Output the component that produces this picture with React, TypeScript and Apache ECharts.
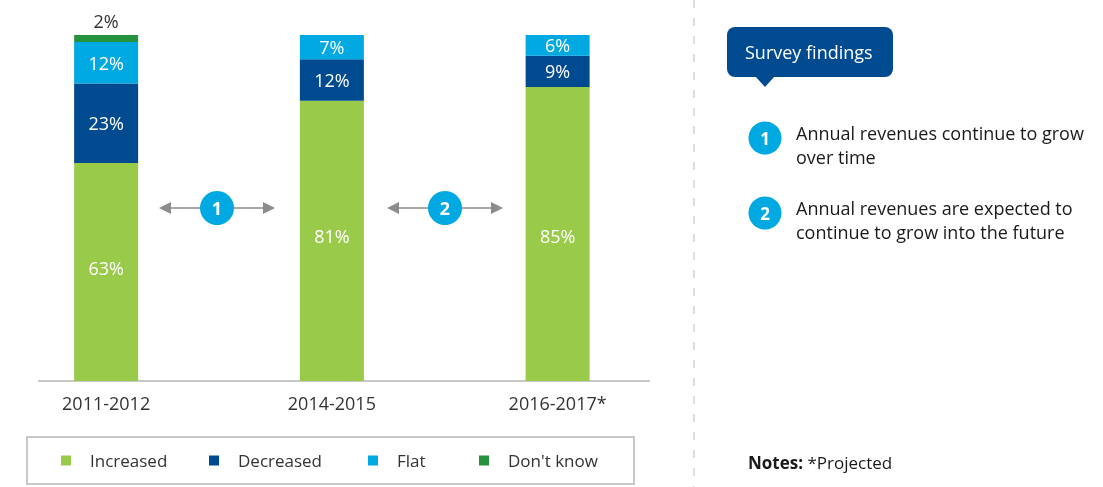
import React, { useEffect, useRef } from "react";
import * as echarts from "echarts";

const categories = ["2011-2012", "2014-2015", "2016-2017*"];
const increased = [63, 81, 85];
const decreased = [23, 12, 9];
const flat = [12, 7, 6];
const dontKnow = [2, 0, 0];
const seriesNames = ["Increased", "Decreased", "Flat", "Don't know"];
const findings = [
  "Annual revenues continue to grow\nover time",
  "Annual revenues are expected to\ncontinue to grow into the future",
];

const FONT = "'Open Sans', 'Noto Sans', sans-serif";
const GREEN = "#9aca4a";
const DARK_BLUE = "#004b8f";
const LIGHT_BLUE = "#00a9e2";
const DARK_GREEN = "#26913f";
const TEXT = "#333333";
const SHIFT = 20; // the chart div starts SHIFT px left of the page
const increasedLabelOffsets = [-4, -5, 2];

export default function App() {
  const ref = useRef<HTMLDivElement>(null);
  useEffect(() => {
    if (!ref.current) return;
    const chart = echarts.init(ref.current, undefined, { renderer: "svg" });
    const fmt = (p: any) => (p.value > 0 ? p.value + "%" : "");
    const inLabel = {
      show: true,
      position: "inside",
      color: "#ffffff",
      fontSize: 18,
      fontFamily: FONT,
      formatter: fmt,
    };
    const legendLefts = [61, 209, 368, 479];
    const colors = [GREEN, DARK_BLUE, LIGHT_BLUE, DARK_GREEN];
    const arrow = (x1: number, x2: number, cx: number, num: string) => [
      { type: "line", shape: { x1: x1 + 8, y1: 208, x2: x2 - 8, y2: 208 }, style: { stroke: "#a8a8a8", lineWidth: 2 } },
      { type: "polygon", shape: { points: [[x1, 208], [x1 + 12, 202], [x1 + 12, 214]] }, style: { fill: "#8c8c8c" } },
      { type: "polygon", shape: { points: [[x2, 208], [x2 - 12, 202], [x2 - 12, 214]] }, style: { fill: "#8c8c8c" } },
      { type: "circle", shape: { cx, cy: 208, r: 17 }, style: { fill: LIGHT_BLUE } },
      { type: "text", x: cx, y: 208, style: { text: num, fill: "#fff", fontSize: 18, fontWeight: "bold", fontFamily: FONT, align: "center", verticalAlign: "middle" } },
    ];
    const option: any = {
      animation: false,
      grid: { left: -6.75 + SHIFT, width: 677.25, top: 35, bottom: 487 - 381, containLabel: false },
      xAxis: {
        type: "category",
        data: categories,
        axisLine: { show: false },
        axisTick: { show: false },
        axisLabel: { color: TEXT, fontSize: 18, fontFamily: FONT, margin: 13 },
      },
      yAxis: { type: "value", min: 0, max: 100, show: false },
      legend: seriesNames.map((n, i) => ({
        data: [n],
        left: legendLefts[i] + SHIFT,
        top: 452,
        padding: 0,
        icon: "rect",
        itemWidth: 10,
        itemHeight: 10,
        selectedMode: false,
        textStyle: { color: TEXT, fontSize: 17, fontFamily: FONT, padding: [0, 0, 0, 14] },
      })),
      series: [
        {
          name: seriesNames[0], type: "bar", stack: "s", barWidth: 64,
          data: increased.map((v, i) => ({ value: v, label: { offset: [0, increasedLabelOffsets[i]] } })),
          itemStyle: { color: colors[0] }, label: inLabel,
        },
        { name: seriesNames[1], type: "bar", stack: "s", barWidth: 64, data: decreased, itemStyle: { color: colors[1] }, label: inLabel },
        { name: seriesNames[2], type: "bar", stack: "s", barWidth: 64, data: flat, itemStyle: { color: colors[2] }, label: inLabel },
        {
          name: seriesNames[3], type: "bar", stack: "s", barWidth: 64, data: dontKnow, itemStyle: { color: colors[3] },
          label: { show: true, position: "top", distance: 5, color: TEXT, fontSize: 18, fontFamily: FONT, formatter: fmt },
        },
      ],
      graphic: [
        {
          type: "group",
          x: SHIFT,
          y: 0,
          children: [
            { type: "line", shape: { x1: 38, y1: 381, x2: 650, y2: 381 }, style: { stroke: "#c8c8c8", lineWidth: 2 } },
            ...arrow(159, 275, 217, "1"),
            ...arrow(387, 503, 445, "2"),
            { type: "rect", shape: { x: 27, y: 437, width: 607, height: 47 }, style: { fill: "none", stroke: "#c8c8c8", lineWidth: 2 } },
            { type: "line", shape: { x1: 694, y1: 0, x2: 694, y2: 487 }, style: { stroke: "#bdbdbd", lineWidth: 1, lineDash: [8, 10] } },
            { type: "rect", shape: { x: 727, y: 27, width: 166, height: 50, r: 8 }, style: { fill: DARK_BLUE } },
            { type: "polygon", shape: { points: [[755, 76], [775, 76], [765, 87]] }, style: { fill: DARK_BLUE } },
            { type: "text", x: 745, y: 52, style: { text: "Survey findings", fill: "#fff", fontSize: 18, fontFamily: FONT, verticalAlign: "middle" } },
            ...findings.flatMap((t, i) => {
              const cy = 138 + i * 75;
              return [
                { type: "circle", shape: { cx: 765, cy, r: 16.5 }, style: { fill: LIGHT_BLUE } },
                { type: "text", x: 765, y: cy, style: { text: String(i + 1), fill: "#fff", fontSize: 17, fontWeight: "bold", fontFamily: FONT, align: "center", verticalAlign: "middle" } },
                { type: "text", x: 796, y: cy - 17, style: { text: t, fill: "#1a1a1a", fontSize: 18, fontFamily: FONT, lineHeight: 24, verticalAlign: "top" } },
              ];
            }),
            {
              type: "text", x: 748, y: 462,
              style: {
                text: "{b|Notes:} *Projected",
                verticalAlign: "middle",
                rich: {
                  b: { fontWeight: "bold", fontSize: 17, fill: "#1a1a1a", fontFamily: FONT },
                },
                fontSize: 17, fill: "#1a1a1a", fontFamily: FONT,
              },
            },
          ],
        },
      ],
    };
    chart.setOption(option);
    return () => chart.dispose();
  }, []);
  return <div ref={ref} style={{ position: "fixed", left: -SHIFT, top: 0, width: 1103 + SHIFT, height: 487 }} />;
}
